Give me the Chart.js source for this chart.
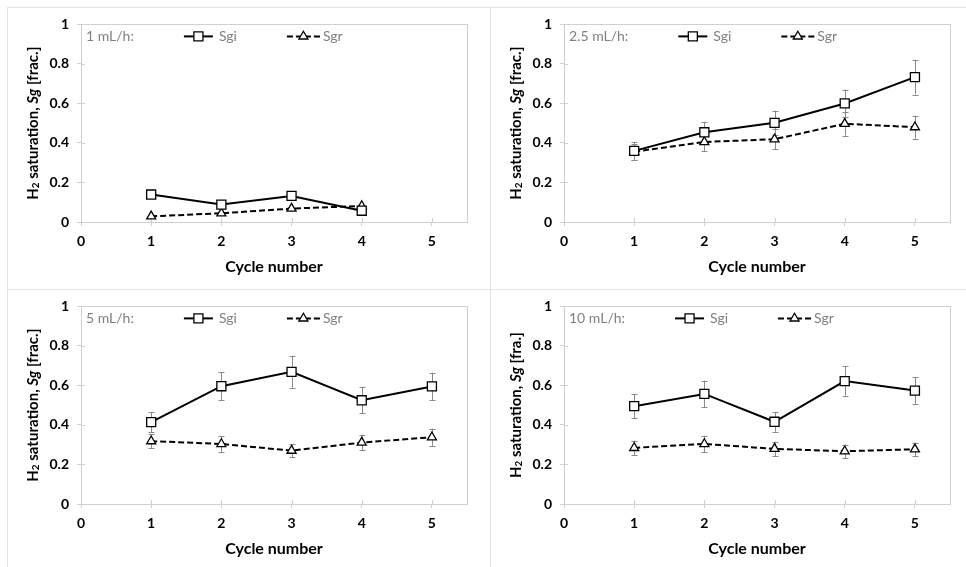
<!DOCTYPE html>
<html>
<head>
<meta charset="utf-8">
<script src="https://cdn.jsdelivr.net/npm/chart.js@4.4.1/dist/chart.umd.min.js"></script>
<style>
    body { margin: 0; background: #fff; }
    #wrap { position: relative; width: 966px; height: 567px; overflow: hidden; }
    .panel { position: absolute; border-left: 1px solid #e3e3e3; border-top: 1px solid #e3e3e3; box-sizing: border-box; }
    .panel canvas { position: absolute; left: 0; top: 0; }
</style>
</head>
<body>
<div id="wrap">
    <div class="panel" style="left:7px;top:7px;width:483px;height:282px"><canvas id="c1" width="482" height="281"></canvas></div>
    <div class="panel" style="left:490px;top:7px;width:476px;height:282px"><canvas id="c2" width="475" height="281"></canvas></div>
    <div class="panel" style="left:7px;top:289px;width:483px;height:278px"><canvas id="c3" width="482" height="277"></canvas></div>
    <div class="panel" style="left:490px;top:289px;width:476px;height:278px"><canvas id="c4" width="475" height="277"></canvas></div>
</div>
<script>
// cycle numbers on the x axis
const cycles = [1, 2, 3, 4, 5];
const xTicks = [0, 1, 2, 3, 4, 5];
const yTicks = [0, 0.2, 0.4, 0.6, 0.8, 1];

// 1 mL/h (only 4 cycles, no error bars)
const sgi1 = [0.139, 0.088, 0.132, 0.057];
const sgr1 = [0.029, 0.044, 0.068, 0.081];

// 2.5 mL/h
const sgi25 = [0.360, 0.454, 0.502, 0.600, 0.733];
const sgi25Err = [0.045, 0.053, 0.062, 0.070, 0.088];
const sgr25 = [0.356, 0.405, 0.419, 0.497, 0.480];
const sgr25Err = [0.040, 0.047, 0.050, 0.060, 0.058];

// 5 mL/h
const sgi5 = [0.414, 0.596, 0.669, 0.525, 0.595];
const sgi5Err = [0.052, 0.070, 0.081, 0.065, 0.070];
const sgr5 = [0.318, 0.304, 0.270, 0.311, 0.338];
const sgr5Err = [0.034, 0.040, 0.034, 0.040, 0.044];

// 10 mL/h
const sgi10 = [0.495, 0.557, 0.416, 0.622, 0.574];
const sgi10Err = [0.060, 0.068, 0.050, 0.074, 0.068];
const sgr10 = [0.284, 0.304, 0.279, 0.267, 0.277];
const sgr10Err = [0.037, 0.042, 0.037, 0.034, 0.034];

const panels = [
    { id: 'c1', rate: '1 mL/h:', unit: 'frac.', sgi: sgi1, sgr: sgr1, sgiErr: null, sgrErr: null },
    { id: 'c2', rate: '2.5 mL/h:', unit: 'frac.', sgi: sgi25, sgr: sgr25, sgiErr: sgi25Err, sgrErr: sgr25Err },
    { id: 'c3', rate: '5 mL/h:', unit: 'frac.', sgi: sgi5, sgr: sgr5, sgiErr: sgi5Err, sgrErr: sgr5Err },
    { id: 'c4', rate: '10 mL/h:', unit: 'fra.', sgi: sgi10, sgr: sgr10, sgiErr: sgi10Err, sgrErr: sgr10Err }
];

const FONT = 'Lato, "Open Sans", sans-serif';
const AXIS_GRAY = '#d0d0d0';
const LEGEND_GRAY = '#808080';

function toPoints(values) {
    return values.map((v, i) => ({ x: cycles[i], y: v }));
}

// plot frame, crossing tick marks and error bars (behind the markers)
const underlayPlugin = {
    id: 'underlay',
    beforeDatasetsDraw(chart) {
        const ctx = chart.ctx;
        const a = chart.chartArea;
        const xs = chart.scales.x, ys = chart.scales.y;
        ctx.save();
        ctx.strokeStyle = AXIS_GRAY;
        ctx.lineWidth = 1;
        ctx.strokeRect(Math.round(a.left) + 0.5, Math.round(a.top) + 0.5, Math.round(a.right - a.left), Math.round(a.bottom - a.top));
        // inner half of the tick marks
        ctx.beginPath();
        xs.ticks.forEach(t => {
            const px = Math.round(xs.getPixelForValue(t.value)) + 0.5;
            ctx.moveTo(px, a.bottom);
            ctx.lineTo(px, a.bottom - 4);
        });
        ys.ticks.forEach(t => {
            const py = Math.round(ys.getPixelForValue(t.value)) + 0.5;
            ctx.moveTo(a.left, py);
            ctx.lineTo(a.left + 4, py);
        });
        ctx.stroke();

        ctx.strokeStyle = '#8a8a8a';
        chart.data.datasets.forEach((ds, di) => {
            if (!ds.errors) return;
            const meta = chart.getDatasetMeta(di);
            meta.data.forEach((pt, i) => {
                const v = ds.data[i].y, e = ds.errors[i];
                const top = ys.getPixelForValue(v + e), bot = ys.getPixelForValue(v - e);
                const px = Math.round(pt.x) + 0.5;
                ctx.beginPath();
                ctx.moveTo(px, top); ctx.lineTo(px, bot);
                ctx.moveTo(px - 3, Math.round(top) + 0.5); ctx.lineTo(px + 3, Math.round(top) + 0.5);
                ctx.moveTo(px - 3, Math.round(bot) + 0.5); ctx.lineTo(px + 3, Math.round(bot) + 0.5);
                ctx.stroke();
            });
        });
        ctx.restore();
    }
};

// legend inside the plot and the rotated y title with sub/italic parts
const overlayPlugin = {
    id: 'overlay',
    afterDraw(chart, args, opts) {
        const ctx = chart.ctx;
        const a = chart.chartArea;
        ctx.save();
        ctx.font = '14px ' + FONT;
        ctx.fillStyle = LEGEND_GRAY;
        ctx.textBaseline = 'middle';
        const ly = a.top + 12;
        ctx.fillText(opts.rate, a.left + 5, ly);
        let x0 = a.left + 5 + ctx.measureText(opts.rate).width + 50;

        const drawItem = (ds, start, len, gap) => {
            ctx.save();
            ctx.strokeStyle = ds.borderColor;
            ctx.lineWidth = ds.borderWidth;
            ctx.setLineDash(ds.borderDash || []);
            ctx.beginPath();
            ctx.moveTo(start, ly); ctx.lineTo(start + len, ly);
            ctx.stroke();
            ctx.setLineDash([]);
            ctx.fillStyle = '#fff';
            ctx.strokeStyle = '#000';
            ctx.lineWidth = ds.pointBorderWidth;
            Chart.helpers.drawPoint(ctx, {
                pointStyle: ds.pointStyle, radius: ds.pointRadius, borderWidth: ds.pointBorderWidth, rotation: 0
            }, start + len / 2, ly);
            ctx.restore();
            ctx.fillStyle = LEGEND_GRAY;
            ctx.fillText(ds.label, start + len + gap, ly);
        };
        const d = chart.data.datasets;
        drawItem(d[0], x0, 29, 6);
        drawItem(d[1], x0 + 103, 33, 3);

        // y axis title
        const parts = [
            { t: 'H', f: 'bold 15px ' + FONT, dy: 0 },
            { t: '2', f: 'bold 10px ' + FONT, dy: 3 },
            { t: ' saturation, ', f: 'bold 15px ' + FONT, dy: 0 },
            { t: 'Sg', f: 'italic bold 15px ' + FONT, dy: 0 },
            { t: ' [' + opts.unit + ']', f: 'bold 15px ' + FONT, dy: 0 }
        ];
        let total = 0;
        parts.forEach(p => { ctx.font = p.f; p.w = ctx.measureText(p.t).width; total += p.w; });
        ctx.translate(25, (a.top + a.bottom) / 2);
        ctx.rotate(-Math.PI / 2);
        ctx.fillStyle = '#000';
        ctx.textBaseline = 'middle';
        let cx = -total / 2;
        parts.forEach(p => {
            ctx.font = p.f;
            ctx.fillText(p.t, cx, p.dy);
            cx += p.w;
        });
        ctx.restore();
    }
};

panels.forEach(p => {
    const canvas = document.getElementById(p.id);
    const h = canvas.height;
    new Chart(canvas.getContext('2d'), {
        type: 'line',
        data: {
            datasets: [{
                label: 'Sgi',
                data: toPoints(p.sgi),
                errors: p.sgiErr,
                borderColor: '#000',
                borderWidth: 2,
                pointStyle: 'rect',
                pointRadius: 6.4,
                pointBorderWidth: 1.3,
                pointBackgroundColor: '#fff',
                pointBorderColor: '#000',
                tension: 0
            }, {
                label: 'Sgr',
                data: toPoints(p.sgr),
                errors: p.sgrErr,
                borderColor: '#000',
                borderWidth: 2,
                borderDash: [6, 3],
                pointStyle: 'triangle',
                pointRadius: 5.2,
                pointBorderWidth: 1.3,
                pointBackgroundColor: '#fff',
                pointBorderColor: '#000',
                tension: 0
            }]
        },
        options: {
            responsive: false,
            animation: false,
            layout: { padding: { top: 16, left: 0, right: canvas.width - 459, bottom: 0 } },
            plugins: {
                legend: { display: false },
                tooltip: { enabled: false },
                overlay: { rate: p.rate, unit: p.unit }
            },
            scales: {
                x: {
                    type: 'linear',
                    min: 0,
                    max: 5.5,
                    afterBuildTicks: s => { s.ticks = xTicks.map(v => ({ value: v })); },
                    afterFit: s => { s.height = h - 214; },
                    grid: { drawOnChartArea: false, tickLength: 4, color: AXIS_GRAY },
                    border: { color: AXIS_GRAY },
                    ticks: { color: '#000', padding: 7, font: { family: FONT, size: 14, weight: 'bold' } },
                    title: {
                        display: true,
                        text: 'Cycle number',
                        color: '#000',
                        font: { family: FONT, size: 16, weight: 'bold' },
                        padding: { top: 0, bottom: h - 258 - 10 }
                    }
                },
                y: {
                    min: 0,
                    max: 1,
                    afterBuildTicks: s => {
                        const t = [];
                        for (let i = 0; i <= 10; i++) t.push({ value: i / 10 });
                        s.ticks = t;
                    },
                    afterFit: s => { s.width = 73; },
                    grid: { drawOnChartArea: false, tickLength: 4, color: AXIS_GRAY },
                    border: { color: AXIS_GRAY },
                    ticks: {
                        color: '#000',
                        padding: 8,
                        font: { family: FONT, size: 14, weight: 'bold' },
                        callback: v => {
                            const r = Math.round(v * 10);
                            return r % 2 === 0 ? String(yTicks[r / 2]) : '';
                        }
                    }
                }
            }
        },
        plugins: [underlayPlugin, overlayPlugin]
    });
});
</script>
</body>
</html>
